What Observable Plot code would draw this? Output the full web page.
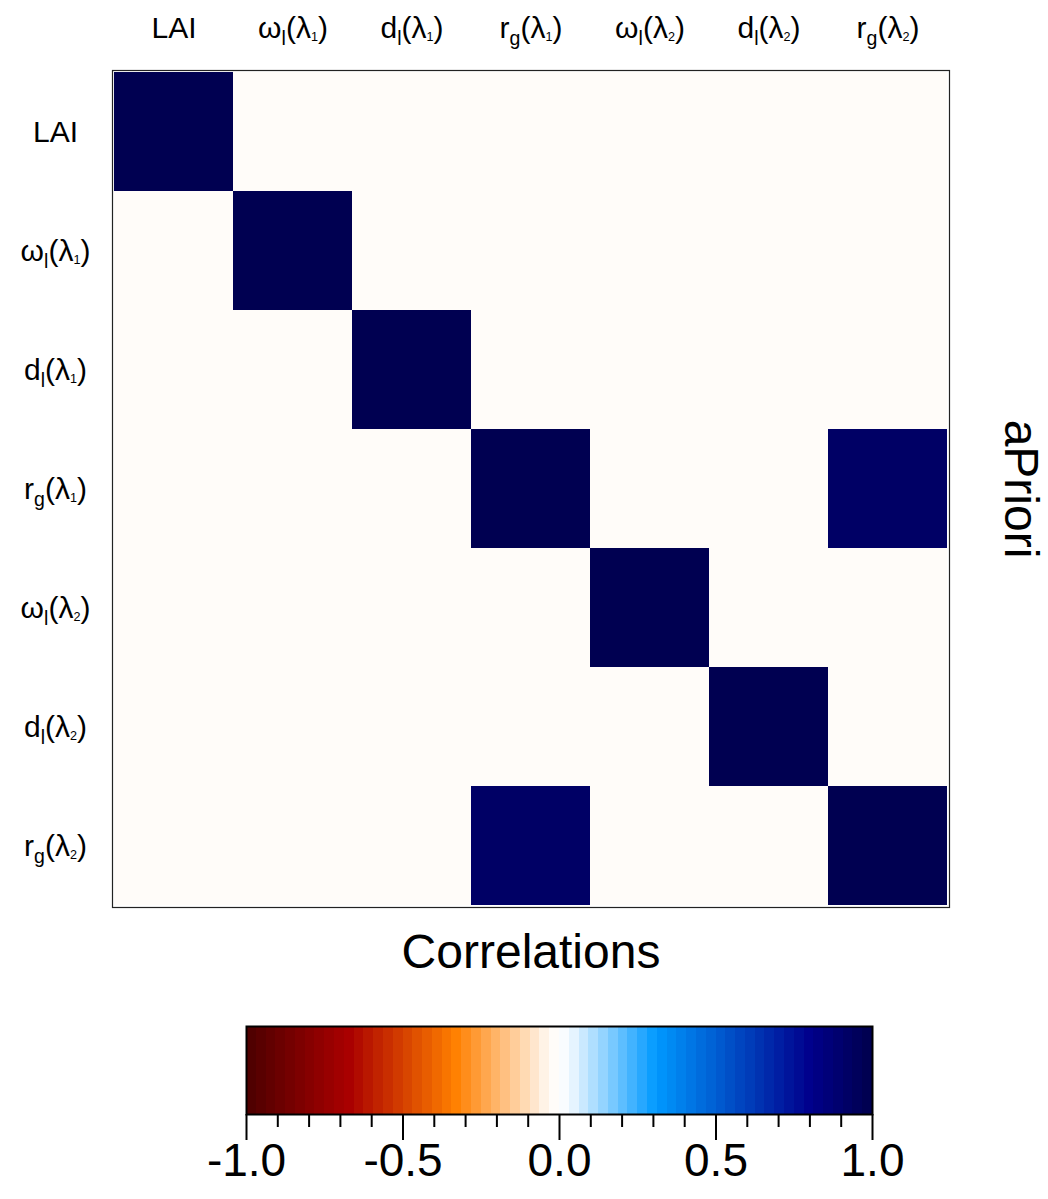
<!DOCTYPE html>
<html><head><meta charset="utf-8">
<script src="https://cdn.jsdelivr.net/npm/d3@7"></script>
<script src="https://cdn.jsdelivr.net/npm/@observablehq/plot@0.6"></script>
<style>
body{margin:0;background:#fff;}
#chart{width:1048px;}
svg{display:block;}
</style></head><body><div id="chart"></div>
<script>
// ---- data ----
const categories = ["LAI", "ω_l(λ_1)", "d_l(λ_1)", "r_g(λ_1)", "ω_l(λ_2)", "d_l(λ_2)", "r_g(λ_2)"];
const rowLAI   = [1, -0.01, -0.01, -0.01, -0.01, -0.01, -0.01];
const rowW1    = [-0.01, 1, -0.01, -0.01, -0.01, -0.01, -0.01];
const rowD1    = [-0.01, -0.01, 1, -0.01, -0.01, -0.01, -0.01];
const rowR1    = [-0.01, -0.01, -0.01, 1, -0.01, -0.01, 0.92];
const rowW2    = [-0.01, -0.01, -0.01, -0.01, 1, -0.01, -0.01];
const rowD2    = [-0.01, -0.01, -0.01, -0.01, -0.01, 1, -0.01];
const rowR2    = [-0.01, -0.01, -0.01, 0.92, -0.01, -0.01, 1];
const correlationRows = [rowLAI, rowW1, rowD1, rowR1, rowW2, rowD2, rowR2];
const colorStops  = [-1, -0.67, -0.33, -0.03, 0, 0.03, 0.31, 0.8, 1];
const colorValues = ["#4c0000", "#aa0000", "#ff8000", "#fffaf4", "#ffffff", "#f4faff", "#0099ff", "#00008c", "#00004c"];
const colorLevels = 64;
const majorTicks = [-1, -0.5, 0, 0.5, 1];
const minorTicks = [-0.9, -0.8, -0.7, -0.6, -0.4, -0.3, -0.2, -0.1, 0.1, 0.2, 0.3, 0.4, 0.6, 0.7, 0.8, 0.9];

// ---- derived ----
const cells = categories.flatMap((row, i) => categories.map((col, j) => ({row, col, value: correlationRows[i][j]})));
const piecewise = d3.scaleLinear().domain(colorStops).range(colorValues).interpolate(d3.interpolateRgb).clamp(true);
const binW = 2 / colorLevels;
const bins = d3.range(colorLevels).map(i => ({x1: -1 + i * binW, x2: -1 + (i + 1) * binW, mid: -1 + (i + 0.5) * binW}));
const palette = bins.map(b => piecewise(b.mid));
const colorScale = {type: "quantize", domain: [-1, 1], range: palette};
const font = "'Liberation Sans', Arial, sans-serif";
const tickFs = 30;

const main = Plot.plot({
  width: 1048, height: 1000,
  marginLeft: 112, marginRight: 99, marginTop: 70, marginBottom: 93,
  style: {fontFamily: font, background: "#fff", color: "#000"},
  x: {domain: categories, padding: 0},
  y: {domain: categories, padding: 0},
  color: colorScale,
  marks: [
    Plot.cell(cells, {x: "col", y: "row", fill: "value", inset: 0, shapeRendering: "crispEdges"}),
    Plot.frame({stroke: "#222", strokeWidth: 1.2}),
    Plot.axisX({anchor: "top", tickSize: 0, tickPadding: 33, fontSize: tickFs, label: null}),
    Plot.axisY({anchor: "left", tickSize: 0, tickPadding: 57, textAnchor: "middle", fontSize: tickFs, label: null}),
    Plot.text(["Correlations"], {text: d => d, frameAnchor: "bottom", lineAnchor: "middle", dy: 45, fontSize: 48}),
    Plot.text(["aPriori"], {text: d => d, frameAnchor: "right", textAnchor: "middle", lineAnchor: "middle", dx: 71, rotate: 90, fontSize: 48})
  ]
});

// subscripts in tick labels
const NS = "http://www.w3.org/2000/svg";
function subscriptify(el, fs) {
  const label = el.textContent;
  if (!label.includes("_")) return;
  const parts = label.split(/_(\w)/);
  el.textContent = "";
  let shift = 0;
  parts.forEach((p, i) => {
    if (p === "") return;
    const t = document.createElementNS(NS, "tspan");
    if (i % 2 === 1) {
      const digit = /\d/.test(p);
      const size = digit ? fs * 0.42 : fs * 0.65;
      const d = digit ? fs * 0.12 : fs * 0.24;
      t.setAttribute("font-size", size);
      t.setAttribute("dy", d - shift);
      shift = d;
    } else if (i > 0) {
      t.setAttribute("dy", -shift);
      shift = 0;
    }
    t.textContent = p;
    el.appendChild(t);
  });
}
main.querySelectorAll('[aria-label="x-axis tick label"] text, [aria-label="y-axis tick label"] text').forEach(el => subscriptify(el, tickFs));

const bar = Plot.plot({
  width: 1048, height: 199,
  marginLeft: 246, marginRight: 176, marginTop: 26, marginBottom: 85,
  style: {fontFamily: font, background: "#fff", color: "#000"},
  x: {domain: [-1, 1]},
  color: colorScale,
  marks: [
    Plot.rect(bins, {x1: "x1", x2: "x2", fill: "mid", shapeRendering: "crispEdges"}),
    Plot.frame({stroke: "#000", strokeWidth: 2}),
    Plot.axisX({ticks: minorTicks, tickSize: 13, strokeWidth: 2, tickFormat: () => "", label: null}),
    Plot.axisX({ticks: majorTicks, tickSize: 26, strokeWidth: 2, tickPadding: 3, fontSize: 46, tickFormat: d => d.toFixed(1), label: null})
  ]
});

const chart = document.getElementById("chart");
chart.appendChild(main);
chart.appendChild(bar);
</script>
</body></html>
